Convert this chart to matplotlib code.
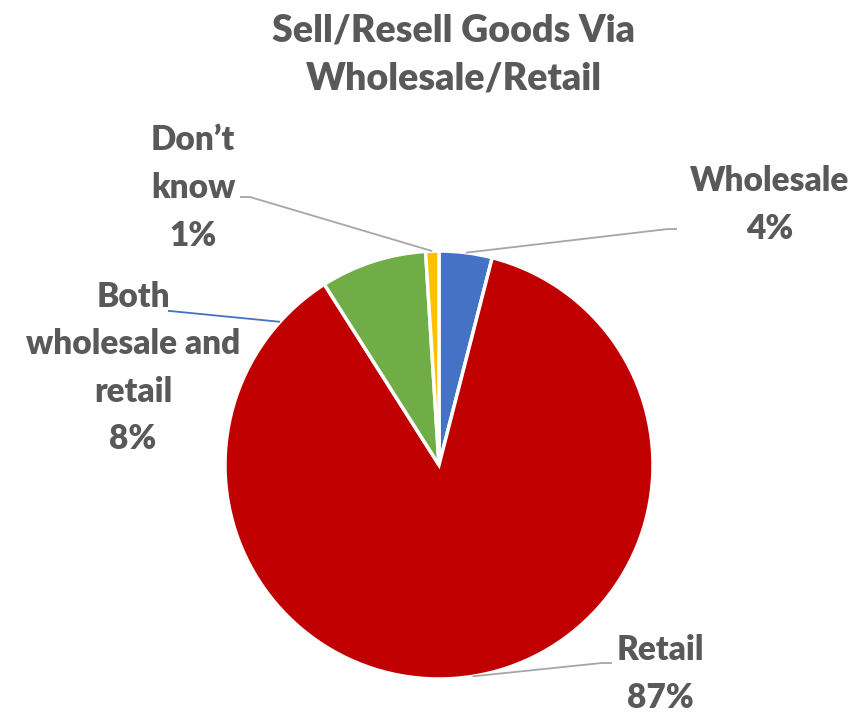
import numpy as np
import matplotlib.pyplot as plt

# share of respondents by sales channel
categories = ["Wholesale", "Retail", "Both\nwholesale and\nretail", "Don\u2019t\nknow"]
shares = [4, 87, 8, 1]
colors = ["#4472C4", "#C00000", "#70AD47", "#FFC000"]

W, H = 856, 713
fig = plt.figure(figsize=(W / 100, H / 100), dpi=100)
ax = fig.add_axes([0, 0, 1, 1])

cx, cy, R = 439, H - 465, 214
wedges, _ = ax.pie(shares, colors=colors, startangle=90, counterclock=False,
                   center=(cx, cy), radius=R,
                   wedgeprops=dict(edgecolor="white", linewidth=2.5))
# pie() resets the limits, so set the pixel frame afterwards
ax.set_xlim(0, W)
ax.set_ylim(0, H)
ax.set_aspect("equal")
ax.axis("off")

txt = "#595959"
font = dict(family=["Lato", "DejaVu Sans"], fontweight="heavy", color=txt)

fig.text(0.53, 1 - 55 / H, "Sell/Resell Goods Via\nWholesale/Retail", ha="center",
         va="center", fontsize=27, linespacing=1.5, **font)

# label centre (px from top-left), elbow end, elbow start, anchor angle override, line colour
label_layout = [
    ((770, 205), (677, 229), (668, 229), None, "#A6A6A6"),
    ((660, 674), (612, 663), (602, 663), None, "#A6A6A6"),
    ((133, 368), (168, 311), (170, 311), 138, "#4472C4"),
    ((193, 188), (240, 197), (250, 197), None, "#A6A6A6"),
]

for w, name, val, (lab, e0, e1, ang, lc) in zip(wedges, categories, shares, label_layout):
    a = ang if ang is not None else (w.theta1 + w.theta2) / 2
    px = cx + R * np.cos(np.radians(a))
    py = cy + R * np.sin(np.radians(a))
    ax.plot([px, e1[0], e0[0]], [py, H - e1[1], H - e0[1]], color=lc, lw=1.3,
            solid_capstyle="butt")
    ax.text(lab[0], H - lab[1], f"{name}\n{val}%", ha="center", va="center",
            fontsize=24, linespacing=1.6, **font)

fig.savefig("out.png", dpi=100)
